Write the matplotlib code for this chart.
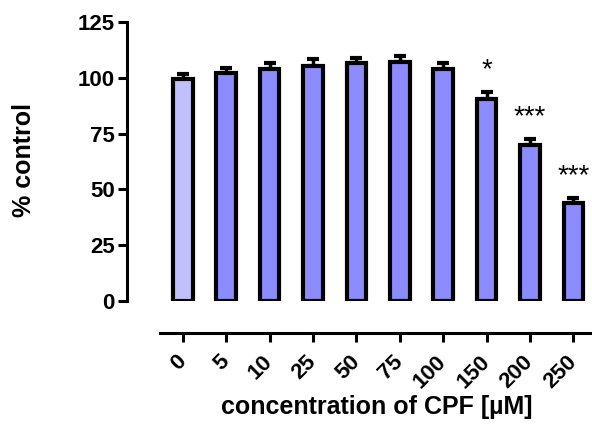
import matplotlib
matplotlib.use('Agg')
import matplotlib.pyplot as plt
import numpy as np

plt.rcParams['font.family'] = ['Liberation Sans', 'DejaVu Sans']
plt.rcParams['font.weight'] = 'bold'
plt.rcParams['font.size'] = 16
plt.rcParams['axes.labelweight'] = 'bold'

# data
concentrations = ['0', '5', '10', '25', '50', '75', '100', '150', '200', '250']
percent_control = [99.5, 102, 104, 105.5, 106.5, 107, 104, 90.5, 70, 44]
sem = [2, 2.5, 2.5, 3, 2.5, 3, 2.5, 3, 2.5, 2]
significance = ['', '', '', '', '', '', '', '*', '***', '***']

control_color = '#c0c0ff'
treated_color = '#8c8cff'

fig = plt.figure(figsize=(5.92, 4.24), dpi=100)
ax = fig.add_axes([0.270, 0.290, 0.728, 0.658])

x = np.arange(len(concentrations))
colors = [control_color] + [treated_color] * (len(concentrations) - 1)

ax.errorbar(x, percent_control, yerr=[np.zeros(len(sem)), sem], fmt='none',
            ecolor='black', elinewidth=2.5, capsize=4.5, capthick=3, zorder=1)
ax.bar(x, percent_control, width=0.45, color=colors, edgecolor='black',
       linewidth=3, zorder=2)

for xi, val, err, lab in zip(x, percent_control, sem, significance):
  if lab:
    ax.text(xi, val + err + 10, lab, ha='center', va='center', fontsize=20,
            fontweight='normal')

for side in ['top', 'right']:
  ax.spines[side].set_visible(False)
ax.spines['left'].set_position(('outward', 23.8))
ax.spines['bottom'].set_position(('outward', 23))
ax.spines['left'].set_linewidth(2.2)
ax.spines['bottom'].set_linewidth(2.2)
ax.tick_params(axis='both', width=2.2, length=6.5, colors='black', labelsize=16)
ax.tick_params(axis='y', pad=2)
ax.tick_params(axis='x', pad=12)

ax.set_xlim(-0.53, 9.4)
ax.set_ylim(0, 125)
ax.set_yticks([0, 25, 50, 75, 100, 125])
ax.set_xticks(x)
ax.set_xticklabels(concentrations, rotation=45, ha='right', va='center',
                   rotation_mode='anchor')

ax.set_ylabel('% control', fontsize=18)
ax.set_xlabel('concentration of CPF [µM]', fontsize=18)
ax.yaxis.set_label_coords(-0.288, 0.505)
ax.xaxis.set_label_coords(0.503, -0.335)

fig.savefig('out.png', dpi=100)
